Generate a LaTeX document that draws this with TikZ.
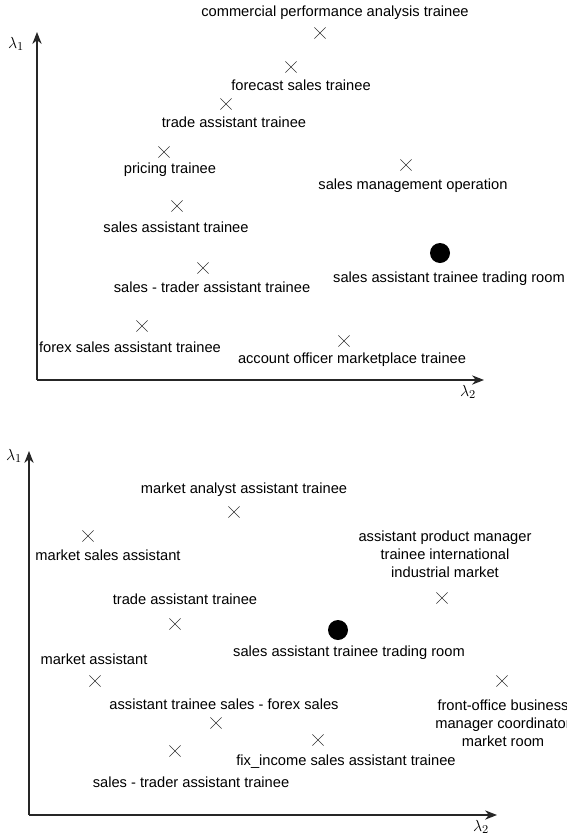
\documentclass[tikz,border=0pt]{standalone}
\usepackage[no-math]{fontspec}
\setmainfont{Liberation Sans}
\usetikzlibrary{arrows.meta,shapes.misc}
\tikzset{
  job/.style={cross out, draw=black!80, line width=0.4pt, minimum size=8pt, inner sep=0pt},
  target/.style={circle, fill=black, minimum size=15pt, inner sep=0pt},
  lbl/.style={font=\fontsize{11}{13.5}\selectfont, inner sep=0pt, align=center},
  axislbl/.style={font=\fontsize{12.5}{14}\selectfont, inner sep=0pt},
  axis/.style={draw=black!85, line width=0.8pt, -{Stealth[length=9pt,width=7pt]}},
}
\begin{document}
\begin{tikzpicture}[x=0.75pt, y=-0.75pt]
            \useasboundingbox (0,0) rectangle (567,836);
            %\draw[lightgray] (0,0) grid[step=50] (567,836);

            % first map
            \coordinate (o1) at (37,380);
            \coordinate (y1) at (37,32);
            \coordinate (x1) at (484,380);
            \draw[axis] (o1) -- (y1);
            \draw[axis] (o1) -- (x1);
            \node[axislbl] (lam1a) at (16,44) {$\lambda_1$};
            \node[axislbl] (lam2a) at (468,392) {$\lambda_2$};

            \node[job] (comm) at (320,33) {};
            \node[lbl] (commtxt) at (335,13) {commercial performance analysis trainee};
            \node[job] (fore) at (291,67) {};
            \node[lbl] (foretxt) at (301,85) {forecast sales trainee};
            \node[job] (trade) at (226,104) {};
            \node[lbl] (tradetxt) at (234,122) {trade assistant trainee};
            \node[job] (pric) at (164,152) {};
            \node[lbl] (prictxt) at (170,170) {pricing trainee};
            \node[job] (mgmt) at (406,165) {};
            \node[lbl] (mgmttxt) at (413,186) {sales management operation};
            \node[job] (sat) at (177,206) {};
            \node[lbl] (sattxt) at (176,227) {sales assistant trainee};
            \node[target] (room) at (440,253) {};
            \node[lbl] (roomtxt) at (449,279) {sales assistant trainee trading room};
            \node[job] (strad) at (203,268) {};
            \node[lbl] (stradtxt) at (212,287) {sales - trader assistant trainee};
            \node[job] (forex) at (142,326) {};
            \node[lbl] (forextxt) at (130,347) {forex sales assistant trainee};
            \node[job] (acc) at (344,341) {};
            \node[lbl] (acctxt) at (352,360) {account officer marketplace trainee};

            % second map
            \coordinate (o2) at (29,815);
            \coordinate (y2) at (29,451);
            \coordinate (x2) at (497,815);
            \draw[axis] (o2) -- (y2);
            \draw[axis] (o2) -- (x2);
            \node[axislbl] (lam1b) at (14,456) {$\lambda_1$};
            \node[axislbl] (lam2b) at (481,827) {$\lambda_2$};

            \node[job] (anal) at (234,512) {};
            \node[lbl] (analtxt) at (244,490) {market analyst assistant trainee};
            \node[job] (msa) at (88,536) {};
            \node[lbl] (msatxt) at (108,555) {market sales assistant};
            \node[job] (apm) at (442,598) {};
            \node[lbl] (apmtxt) at (445,554) {assistant product manager\\trainee international\\industrial market};
            \node[job] (trade2) at (175,624) {};
            \node[lbl] (trade2txt) at (185,599) {trade assistant trainee};
            \node[target] (room2) at (338,630) {};
            \node[lbl] (room2txt) at (349,653) {sales assistant trainee trading room};
            \node[job] (ma) at (95,681) {};
            \node[lbl] (matxt) at (94,659) {market assistant};
            \node[job] (front) at (502,681) {};
            \node[lbl] (fronttxt) at (503,723) {front-office business\\manager coordinator\\market room};
            \node[job] (atsf) at (216,723) {};
            \node[lbl] (atsftxt) at (224,704) {assistant trainee sales - forex sales};
            \node[job] (fix) at (318,740) {};
            \node[lbl] (fixtxt) at (346,762) {fix\_income sales assistant trainee};
            \node[job] (strad2) at (175,751) {};
            \node[lbl] (strad2txt) at (191,782) {sales - trader assistant trainee};
\end{tikzpicture}
\end{document}
